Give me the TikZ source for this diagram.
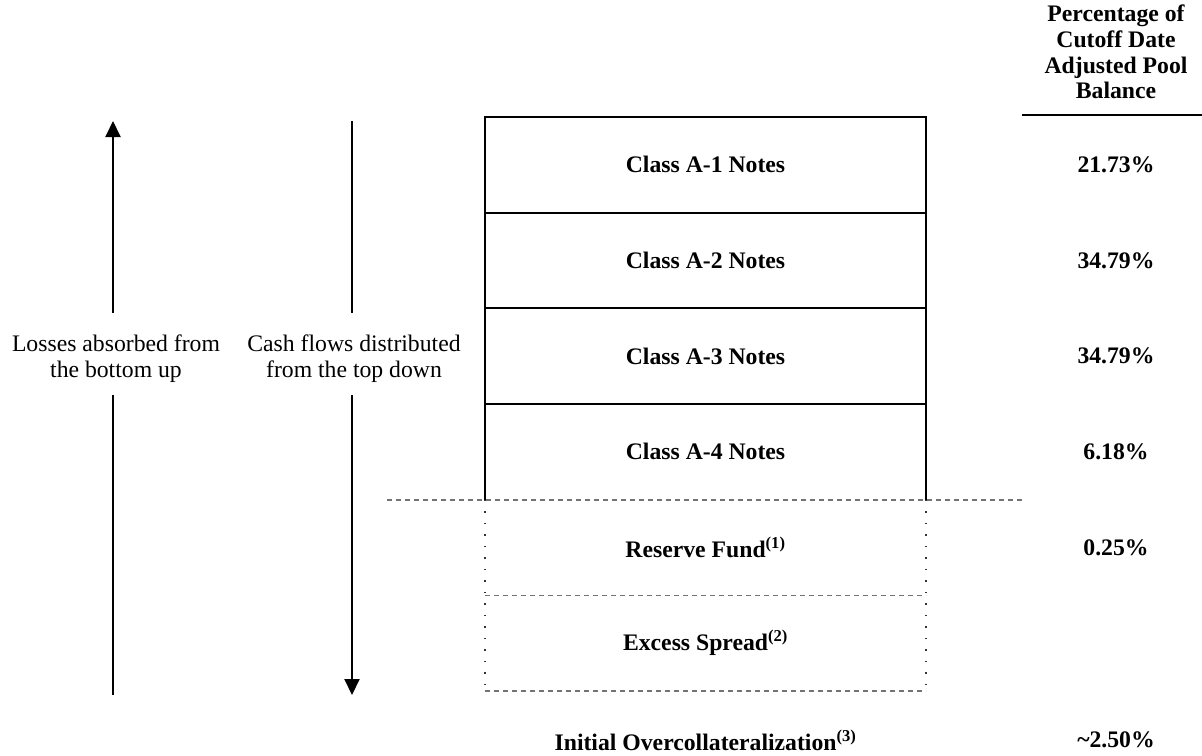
\documentclass[tikz,border=0pt]{standalone}
\usepackage{fontspec}
\setmainfont{Liberation Serif}
\usetikzlibrary{arrows.meta}
\begin{document}
\begin{tikzpicture}[x=1pt,y=-1pt,
  every node/.style={inner sep=0pt, outer sep=0pt},
  plainlbl/.style={font=\fontsize{23.7}{25.7}\selectfont, align=center},
  boldlbl/.style={font=\fontsize{23.7}{25.7}\selectfont\bfseries, align=center},
  tranche/.style={boldlbl, minimum width=441pt, minimum height=95.67pt},
  solidbox/.style={draw=black, line width=2pt},
  sepline/.style={draw=black!55, line width=1.5pt, dash pattern=on 5pt off 4pt},
  dotside/.style={draw=black!80, line width=1.5pt, dash pattern=on 1.5pt off 10pt},
  flow/.style={draw=black, line width=2pt, -{Triangle[width=15pt,length=16pt]}},
  stem/.style={draw=black, line width=2pt},
  rulestyle/.style={draw=black, line width=2pt}]

\useasboundingbox (0,0) rectangle (1202,755);

% tranche rows
\node[tranche] (a1) at (705.5,164.8) {Class A-1 Notes};
\node[tranche] (a2) at (705.5,260.5) {Class A-2 Notes};
\node[tranche] (a3) at (705.5,356.2) {Class A-3 Notes};
\node[tranche] (a4) at (705.5,451.8) {Class A-4 Notes};
\node[tranche] (rf) at (705.5,547.5) {Reserve Fund\textsuperscript{(1)}};
\node[tranche] (es) at (705.5,643.2) {Excess Spread\textsuperscript{(2)}};

% solid notes boxes
\draw[solidbox] (a4.south west) -- (a1.north west) -- (a1.north east) -- (a4.south east);
\draw[solidbox] (a1.south west) -- (a1.south east);
\draw[solidbox] (a2.south west) -- (a2.south east);
\draw[solidbox] (a3.south west) -- (a3.south east);

% dashed separator
\coordinate (sepL) at (387,500);
\coordinate (sepR) at (1022,500);
\draw[sepline] (sepL) -- (sepR);

% dotted credit enhancement boxes
\draw[dotside] (rf.north west) -- (es.south west);
\draw[dotside] (rf.north east) -- (es.south east);
\draw[sepline] (rf.south west) -- (rf.south east);
\draw[sepline] (es.south west) -- (es.south east);

% header
\node[boldlbl, anchor=north] (hdr) at (1116,5) {Percentage of\\Cutoff Date\\Adjusted Pool\\Balance};
\coordinate (ruleL) at (1022,115);
\coordinate (ruleR) at (1202,115);
\draw[rulestyle] (ruleL) -- (ruleR);

% percentages
\node[boldlbl] (p1) at (1116,164.8) {21.73\%};
\node[boldlbl] (p2) at (1116,260.5) {34.79\%};
\node[boldlbl] (p3) at (1116,356.2) {34.79\%};
\node[boldlbl] (p4) at (1116,451.8) {6.18\%};
\node[boldlbl] (p5) at (1116,547.5) {0.25\%};

% bottom line
\node[boldlbl] (oc) at (705.5,740) {Initial Overcollateralization\textsuperscript{(3)}};
\node[boldlbl] (poc) at (1116,740) {\textasciitilde 2.50\%};

% side labels
\node[plainlbl] (loss) at (116,359) {Losses absorbed from\\the bottom up};
\node[plainlbl] (cash) at (354,359) {Cash flows distributed\\from the top down};

% arrows
\coordinate (lossBot) at (113,695);
\coordinate (lossLow) at (113,395);
\coordinate (lossUp) at (113,313);
\coordinate (lossTop) at (113,121);
\draw[stem] (lossBot) -- (lossLow);
\draw[flow] (lossUp) -- (lossTop);

\coordinate (cashTop) at (352,121);
\coordinate (cashUp) at (352,313);
\coordinate (cashLow) at (352,395);
\coordinate (cashBot) at (352,695);
\draw[stem] (cashTop) -- (cashUp);
\draw[flow] (cashLow) -- (cashBot);
\end{tikzpicture}
\end{document}
